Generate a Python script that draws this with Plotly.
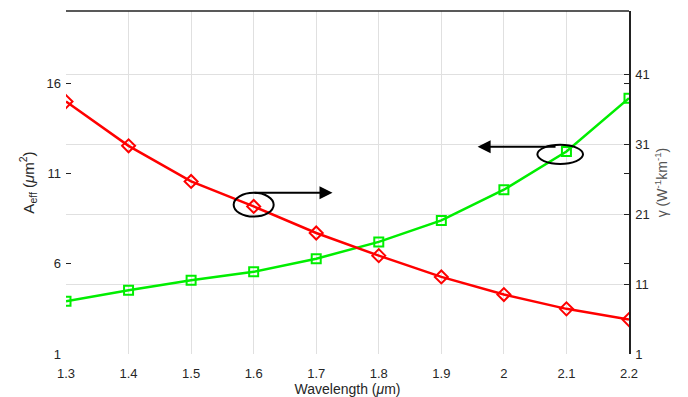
import plotly.graph_objects as go

wavelength = [1.3, 1.4, 1.5, 1.6, 1.7, 1.8, 1.9, 2.0, 2.1, 2.2]
aeff = [3.92, 4.53, 5.08, 5.55, 6.28, 7.21, 8.40, 10.10, 12.22, 15.17]
gamma = [37.06, 30.74, 25.65, 22.08, 18.29, 15.05, 12.01, 9.49, 7.45, 5.92]

x_ticks = [1.3, 1.4, 1.5, 1.6, 1.7, 1.8, 1.9, 2.0, 2.1, 2.2]
x_labels = ["1.3", "1.4", "1.5", "1.6", "1.7", "1.8", "1.9", "2", "2.1", "2.2"]
left_ticks = [1, 6, 11, 16]
right_ticks = [1, 11, 21, 31, 41]

font_family = "Liberation Sans, Arial, sans-serif"
tick_col = "#262626"

fig = go.Figure()
fig.add_trace(go.Scatter(
    x=wavelength, y=aeff, mode="lines+markers", yaxis="y",
    line=dict(color="#00ee00", width=2.5),
    marker=dict(symbol="square-open", size=9, color="#00ee00", line=dict(width=2)),
    showlegend=False))
fig.add_trace(go.Scatter(
    x=wavelength, y=gamma, mode="lines+markers", yaxis="y2",
    line=dict(color="#ff0000", width=2.5),
    marker=dict(symbol="diamond-open", size=10, color="#ff0000", line=dict(width=2)),
    showlegend=False))

# ellipse around the gamma point at 1.6 (right axis)
i_g = wavelength.index(1.6)
fig.add_shape(type="circle", xref="x", yref="y2",
              x0=wavelength[i_g] - 0.032, x1=wavelength[i_g] + 0.032,
              y0=gamma[i_g] + 0.25 - 1.7, y1=gamma[i_g] + 0.25 + 1.7,
              line=dict(color="black", width=2))
fig.add_annotation(xref="x", yref="y2", axref="x", ayref="y2",
                   x=wavelength[i_g] + 0.126, y=gamma[i_g] + 1.95,
                   ax=wavelength[i_g] - 0.001, ay=gamma[i_g] + 1.95,
                   text="", showarrow=True, arrowhead=2, arrowsize=1.3,
                   arrowwidth=2, arrowcolor="black")

# ellipse around the A_eff point at 2.1 (left axis)
i_a = wavelength.index(2.1)
fig.add_shape(type="circle", xref="x", yref="y",
              x0=wavelength[i_a] - 0.01 - 0.0365, x1=wavelength[i_a] - 0.01 + 0.0365,
              y0=aeff[i_a] - 0.16 - 0.53, y1=aeff[i_a] - 0.16 + 0.53,
              line=dict(color="black", width=2))
fig.add_annotation(xref="x", yref="y", axref="x", ayref="y",
                   x=wavelength[i_a] - 0.142, y=aeff[i_a] + 0.26,
                   ax=wavelength[i_a] - 0.015, ay=aeff[i_a] + 0.26,
                   text="", showarrow=True, arrowhead=2, arrowsize=1.3,
                   arrowwidth=2, arrowcolor="black")

# top border
fig.add_shape(type="line", xref="paper", yref="paper", x0=0, x1=1, y0=1, y1=1,
              line=dict(color="#222222", width=1.5))

fig.update_layout(
    width=688, height=397,
    margin=dict(l=66, r=59, t=11, b=43),
    paper_bgcolor="white", plot_bgcolor="white",
    font=dict(family=font_family, size=13, color=tick_col),
    xaxis=dict(range=[1.3, 2.2], tickvals=x_ticks, ticktext=x_labels,
               showgrid=True, gridcolor="#e0e0e0", gridwidth=1,
               zeroline=False, showline=False, automargin=False,
               ticks="outside", ticklen=7, tickcolor="rgba(0,0,0,0)",
               title=dict(text="Wavelength (<i>μ</i>m)", font=dict(size=14), standoff=0)),
    yaxis=dict(range=[1, 20], tickvals=left_ticks, showgrid=False, zeroline=False,
               showline=False, ticks="inside", ticklen=5, tickcolor="#222222",
               mirror="ticks", ticklabelstandoff=4, automargin=False,
               title=dict(text="A<sub>eff</sub> (<i>μ</i>m<sup>2</sup>)", font=dict(size=15), standoff=8)),
    yaxis2=dict(range=[1, 50], tickvals=right_ticks, overlaying="y", side="right",
                showgrid=True, gridcolor="#e0e0e0", gridwidth=1, zeroline=False,
                showline=True, linecolor="#222222", linewidth=1.5, automargin=False,
                ticks="inside", ticklen=5, tickcolor="#222222", ticklabelstandoff=2,
                title=dict(text="γ (W<sup>-1</sup>km<sup>-1</sup>)", font=dict(size=14, color="#555555"), standoff=8)),
)

fig.write_html("out.html")
